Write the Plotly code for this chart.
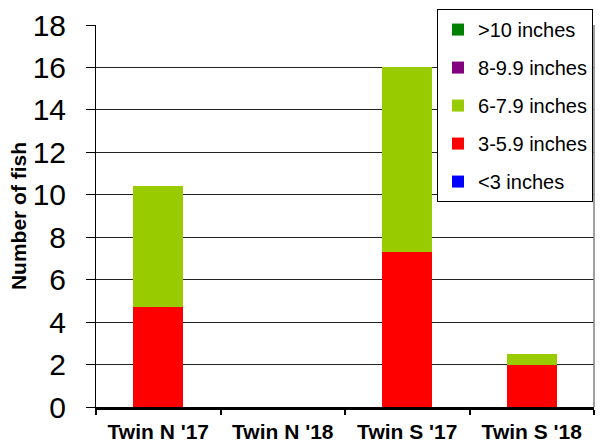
import plotly.graph_objects as go

categories = ["Twin N '17", "Twin N '18", "Twin S '17", "Twin S '18"]
series_names = ["<3 inches", "3-5.9 inches", "6-7.9 inches", "8-9.9 inches", ">10 inches"]
lt3 = [0, 0, 0, 0]
s3_59 = [4.7, 0, 7.3, 2.0]
s6_79 = [5.7, 0, 8.7, 0.5]
s8_99 = [0, 0, 0, 0]
gt10 = [0, 0, 0, 0]
colors = ["#0000FF", "#FF0000", "#99CC00", "#800080", "#008000"]
y_ticks = [0, 2, 4, 6, 8, 10, 12, 14, 16, 18]

FONT = "Liberation Sans, Arial, sans-serif"

fig = go.Figure()
n = len(series_names)
for i, (name, vals, col) in enumerate(zip(series_names, [lt3, s3_59, s6_79, s8_99, gt10], colors)):
    fig.add_trace(go.Bar(x=categories, y=vals, name=name, marker=dict(color=col, line=dict(width=0)),
                         legendgroup=name, legendrank=1000 + (n - i)))

fig.update_layout(
    barmode="stack",
    bargap=0.6,
    width=604, height=444,
    margin=dict(l=96, r=10, t=24, b=37),
    plot_bgcolor="white", paper_bgcolor="white",
    font=dict(family=FONT, color="black"),
    showlegend=True,
    legend=dict(
        x=0.998, y=1.039, xanchor="right", yanchor="top",
        traceorder="grouped", tracegroupgap=9,
        bordercolor="black", borderwidth=1, bgcolor="white",
        font=dict(size=20), itemwidth=30,
    ),
    xaxis=dict(
        showline=True, linecolor="black", linewidth=3,
        ticks="outside", tickson="boundaries", ticklen=5, tickwidth=2, tickcolor="black",
        tickfont=dict(size=21, family=FONT), ticklabelstandoff=4,
        showgrid=False, automargin=False,
    ),
    yaxis=dict(
        range=[0, 18], tickvals=y_ticks, ticktext=[str(v) for v in y_ticks],
        showline=True, linecolor="black", linewidth=1,
        ticks="outside", ticklen=9, tickcolor="black", tickwidth=1,
        ticklabelstandoff=14,
        showgrid=True, gridcolor="#222222", gridwidth=1, zeroline=False,
        tickfont=dict(size=30),
        title=dict(text="<b>Number of fish</b>", font=dict(size=21), standoff=0),
        automargin=False,
    ),
)
fig.update_xaxes(tickprefix="<b>", ticksuffix="</b>")
fig.add_shape(type="line", xref="paper", yref="paper", x0=1, x1=1, y0=0, y1=1,
              line=dict(color="#808080", width=1.5))
fig.write_html("out.html", config={"displayModeBar": False},
               post_script="document.body.style.margin='0';document.body.style.padding='0';")
